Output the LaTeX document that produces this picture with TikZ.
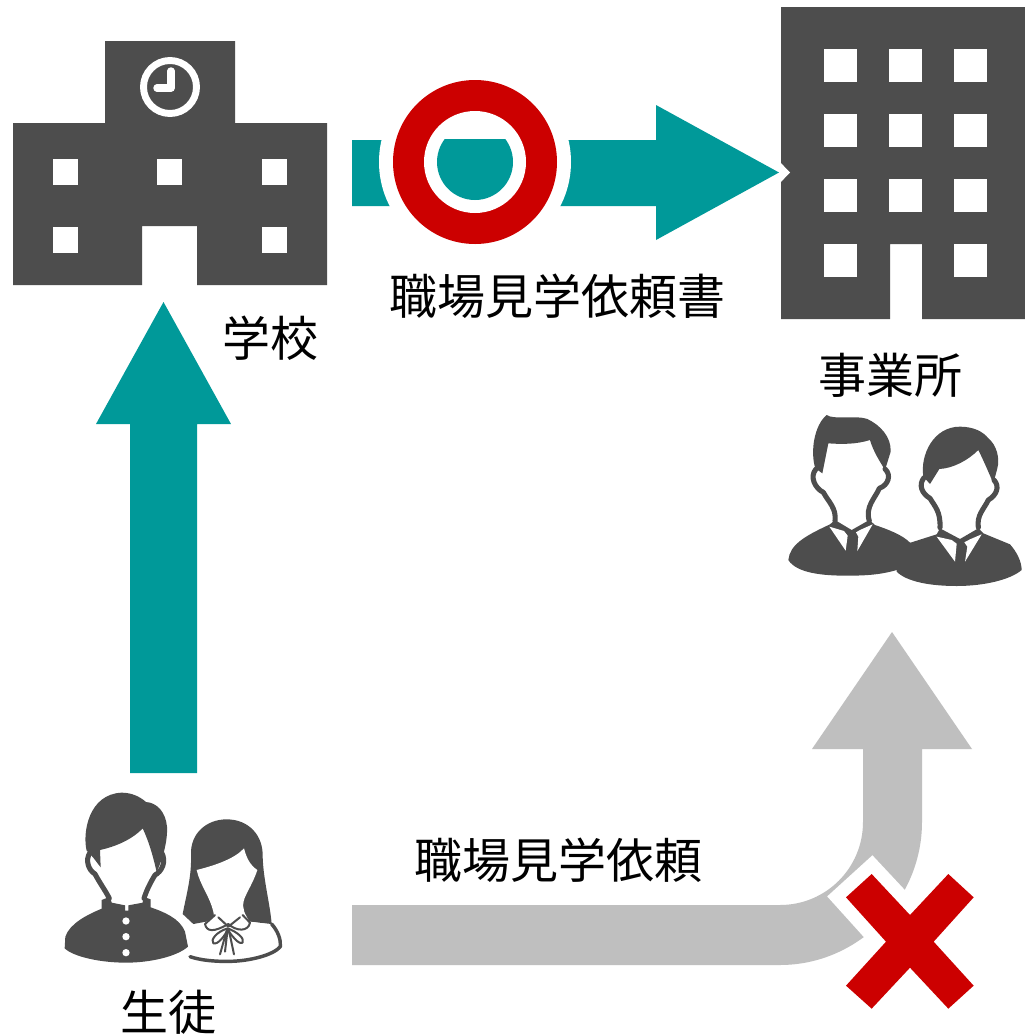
\documentclass[tikz,border=0pt]{standalone}
\usepackage{fontspec}
\setmainfont{Noto Sans CJK JP}
\definecolor{dk}{HTML}{4D4D4D}
\definecolor{teal2}{HTML}{009999}
\definecolor{red2}{HTML}{CC0000}
\definecolor{gr}{HTML}{BFBFBF}
\tikzset{
  lbl/.style={font=\fontsize{36}{40}\selectfont,text=black,inner sep=0pt,anchor=center},
  win/.style={fill=white,draw=none},
  outl/.style={draw=dk,line width=3.8pt,line cap=round,line join=round},
  thin dk/.style={draw=dk,line width=1.5pt,line cap=round,line join=round},
  zoomed/.style={x=0.25pt,y=-0.25pt}
}
\begin{document}
\begin{tikzpicture}[x=0.75pt,y=-0.75pt]
\useasboundingbox[fill=white] (0,0) rectangle (1025,1036);
% School
\fill[dk] (13,123)--(105,123)--(105,41)--(235,41)--(235,123)--(327,123)--(327,285)--(197,285)--(197,226)--(142,226)--(142,285)--(13,285)--cycle;
\foreach \x/\y in {53/159,157/159,262/159,53/227,262/227}
  \fill[win] (\x,\y) rectangle ++(25,26);
\draw[white,line width=5.2pt] (170,87) circle (26.5);
\draw[white,line width=5.6pt,line cap=round,line join=round] (171,71)--(171,88)--(157,88);
% Office
\fill[dk] (781,7)--(1025,7)--(1025,319)--(922,319)--(922,244)--(890,244)--(890,319)--(781,319)--cycle;
\foreach \x in {824,889,954} \foreach \y in {49,114,179}
  \fill[win] (\x,\y) rectangle ++(33,33);
\fill[win] (824,244) rectangle ++(33,33);
\fill[win] (954,244) rectangle ++(33,33);
% Teal right arrow
\fill[white] (778,160)--(790,172.5)--(778,185)--cycle;
\path[fill=teal2] (352,140)--(656,140)--(656,105)--(779,172.5)--(656,240)--(656,206)--(352,206)--cycle;
\fill[white] (475,162) circle (96);
\fill[red2] (475,162) circle (82);
\fill[white] (475,162) circle (51);
\begin{scope}
  \clip (475,162) circle (38);
  \fill[teal2] (352,139) rectangle (656,206);
\end{scope}
% Teal up arrow
\fill[teal2] (163.5,302)--(231,424)--(197,424)--(197,773)--(130,773)--(130,424)--(96,424)--cycle;
% Grey bent arrow
\fill[gr] (352,905)--(780,905) .. controls (826,905) and (863,868) .. (863,822)--(863,749)--(812,749)--(892,632)--(972,749)--(922,749)--(922,822) .. controls (922,900) and (858,965) .. (780,965)--(352,965)--cycle;
% Cross
\begin{scope}[shift={(780,780)},zoomed]
  \path[draw=white,line width=20pt,line join=miter,miter limit=10,fill=white] (275,282)--(390,405)--(505,282)--(581,352)--(461,485)--(581,617)--(505,686)--(390,563)--(275,686)--(198,617)--(318,485)--(198,352)--cycle;
  \fill[red2] (275,282)--(390,405)--(505,282)--(581,352)--(461,485)--(581,617)--(505,686)--(390,563)--(275,686)--(198,617)--(318,485)--(198,352)--cycle;
\end{scope}
% Students
\begin{scope}[shift={(50,780)},zoomed]
  % girl
  \fill[dk] (398,402) .. controls (410,340) and (425,290) .. (423,225) .. controls (420,160) and (470,118) .. (530,118) .. controls (595,118) and (640,165) .. (638,230) .. controls (640,300) and (660,370) .. (665,432) -- (600,425) -- (495,420) -- (430,432) -- cycle;
  \fill[white] (440,270) .. controls (500,255) and (555,235) .. (582,205) .. controls (590,235) and (600,255) .. (622,270) .. controls (612,300) and (600,320) .. (588,345) .. controls (575,370) and (578,390) .. (590,410) -- (598,425) -- (495,425) -- (490,395) .. controls (480,350) and (450,315) .. (440,270) -- cycle;
  \fill[white] (430,434)--(465,428)--(495,408)--(578,408)--(600,425)--(665,434)--(690,490)--(690,505)--(640,530)--(540,540)--(425,530)--cycle;
  \draw[outl,line width=2.6pt] (665,432) .. controls (685,455) and (693,480) .. (691,500) .. controls (670,525) and (600,543) .. (540,544) .. controls (490,545) and (450,540) .. (420,530);
  \draw[thin dk] (495,405) -- (465,432) .. controls (470,455) and (490,458) .. (535,432) .. controls (560,455) and (595,455) .. (600,428) -- (578,405);
  \draw[thin dk] (505,412) -- (535,440) -- (570,412);
  \draw[thin dk] (533,445) .. controls (500,455) and (480,480) .. (490,490) .. controls (505,495) and (525,465) .. (533,450) .. controls (545,465) and (565,495) .. (578,488) .. controls (585,475) and (560,455) .. (533,445);
  \draw[thin dk] (530,452) -- (510,523) (537,452) -- (552,523) (532,455) -- (525,515);
  % boy
  \fill[dk] (110,212) .. controls (97,160) and (115,42) .. (215,38) .. controls (245,38) and (270,50) .. (288,66) .. controls (320,68) and (347,95) .. (351,140) .. controls (353,180) and (342,225) .. (320,277) .. controls (310,230) and (295,180) .. (278,145) .. controls (245,180) and (195,200) .. (150,210) -- (152,262) .. controls (135,240) and (125,225) .. (110,212) -- cycle;
  \draw[outl] (120,218) .. controls (105,240) and (115,270) .. (135,282) .. controls (150,310) and (165,330) .. (178,355);
  \draw[outl] (335,218) .. controls (350,245) and (335,275) .. (315,285) .. controls (300,310) and (290,330) .. (282,355);
  \fill[dk] (155,360)--(180,350)--(185,368)--(225,376)--(225,392)--(235,392)--(235,376)--(278,368)--(280,350)--(302,358)--(302,382) .. controls (340,395) and (390,415) .. (405,455) -- (414,500) .. controls (380,530) and (300,548) .. (228,548) .. controls (150,548) and (70,530) .. (44,505) -- (46,470) .. controls (60,430) and (110,405) .. (155,386) -- cycle;
  \fill[white] (228,423) circle (11) (228,470) circle (11) (228,518) circle (11);
\end{scope}
% Businessmen
\begin{scope}[shift={(780,405)},zoomed]
  % right man
  \fill[dk] (430,215) .. controls (420,150) and (460,65) .. (540,65) .. controls (580,65) and (610,80) .. (625,100) .. controls (650,120) and (660,160) .. (652,190) -- (640,235) .. controls (625,200) and (610,165) .. (595,135) .. controls (565,165) and (520,190) .. (478,192) -- (450,237) -- cycle;
  \draw[outl] (432,218) .. controls (415,240) and (425,265) .. (450,280) .. controls (465,305) and (482,320) .. (480,368);
  \draw[outl] (642,225) .. controls (660,245) and (650,270) .. (625,285) .. controls (610,315) and (590,330) .. (595,368);
  \fill[dk] (350,490) -- (385,415) -- (470,388) -- (480,370) -- (540,402) -- (595,370) -- (610,385) -- (690,418) .. controls (710,440) and (725,470) .. (725,495) .. controls (690,525) and (610,543) .. (530,543) .. controls (450,543) and (380,530) .. (350,500) -- cycle;
  \fill[white] (470,395)--(525,470)--(530,416)--(515,405)--cycle;
  \fill[white] (605,388)--(555,470)--(562,425)--(553,412)--(570,403)--cycle;
  % left man
  \fill[dk] (106,190) .. controls (90,140) and (103,60) .. (140,30) .. controls (160,45) and (230,30) .. (262,42) .. controls (300,60) and (334,95) .. (332,140) -- (315,195) .. controls (300,170) and (280,140) .. (270,105) .. controls (230,118) and (185,118) .. (145,115) -- (127,205) -- cycle;
  \draw[outl] (108,192) .. controls (88,215) and (105,250) .. (130,262) .. controls (145,290) and (170,310) .. (165,348);
  \draw[outl] (315,192) .. controls (335,210) and (325,240) .. (298,250) .. controls (285,280) and (255,305) .. (268,348);
  \fill[dk] (25,465) .. controls (30,420) and (70,395) .. (150,358) -- (165,345) -- (215,375) -- (268,345) -- (285,360) .. controls (320,372) and (370,390) .. (392,415) -- (350,495) .. controls (300,510) and (250,512) .. (200,512) .. controls (130,512) and (50,505) .. (25,465) -- cycle;
  \fill[white] (148,365)--(197,437)--(203,392)--(192,378)--cycle;
  \fill[white] (278,358)--(232,438)--(235,395)--(228,382)--(240,375)--cycle;
\end{scope}
% Labels
\node[lbl] (letter) at (557,296) {職場見学依頼書};
\node[lbl] (school) at (270,338) {学校};
\node[lbl] (office) at (890,375) {事業所};
\node[lbl] (student) at (168,1012) {生徒};
\node[lbl] (request) at (558,860) {職場見学依頼};
\end{tikzpicture}
\end{document}
